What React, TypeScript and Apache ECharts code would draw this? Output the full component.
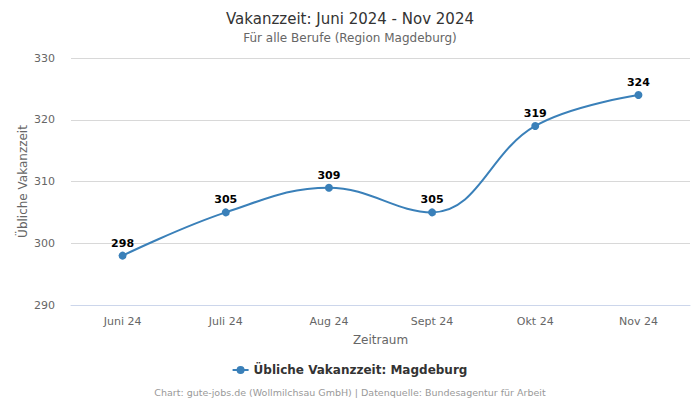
import React, { useEffect, useRef } from "react";
import * as echarts from "echarts";

const categories = ["Juni 24", "Juli 24", "Aug 24", "Sept 24", "Okt 24", "Nov 24"];
const values = [298, 305, 309, 305, 319, 324];
const seriesName = "Übliche Vakanzzeit: Magdeburg";
const yMin = 290;
const yMax = 330;
const yInterval = 10;

const FONT = "DejaVu Sans, sans-serif";
const LEGEND_ICON = "path://M0,3 H16 V5 H0 Z M12,4 A4,4 0 1 1 4,4 A4,4 0 1 1 12,4 Z";

export default function App() {
  const ref = useRef<HTMLDivElement>(null);
  useEffect(() => {
    if (!ref.current) return;
    const chart = echarts.init(ref.current, undefined, { renderer: "svg" });
    chart.setOption({
      animation: false,
      textStyle: { fontFamily: FONT },
      title: {
        text: "Vakanzzeit: Juni 2024 - Nov 2024",
        subtext: "Für alle Berufe (Region Magdeburg)",
        left: "center",
        top: 6,
        itemGap: 6,
        textStyle: { fontFamily: FONT, fontSize: 15, fontWeight: "normal", color: "#333333" },
        subtextStyle: { fontFamily: FONT, fontSize: 12, color: "#666666" },
      },
      legend: {
        bottom: 19,
        left: "center",
        itemWidth: 16,
        itemHeight: 8,
        itemGap: 5,
        textStyle: { fontFamily: FONT, fontSize: 12, fontWeight: "bold", color: "#333333" },
        data: [{ name: seriesName, icon: LEGEND_ICON }],
      },
      graphic: [
        {
          type: "text",
          left: "center",
          top: 387,
          style: {
            text: "Chart: gute-jobs.de (Wollmilchsau GmbH) | Datenquelle: Bundesagentur für Arbeit",
            fontFamily: FONT,
            fontSize: 9.5,
            fill: "#999999",
          },
        },
      ],
      grid: { left: 71, right: 10, top: 58, bottom: 95 },
      xAxis: {
        type: "category",
        data: categories,
        boundaryGap: true,
        name: "Zeitraum",
        nameLocation: "middle",
        nameGap: 29,
        nameTextStyle: { fontFamily: FONT, fontSize: 12, color: "#666666" },
        axisLine: { lineStyle: { color: "#ccd6eb" } },
        axisTick: { show: false },
        axisLabel: { fontFamily: FONT, fontSize: 11, color: "#666666", margin: 11 },
      },
      yAxis: {
        type: "value",
        min: yMin,
        max: yMax,
        interval: yInterval,
        name: "Übliche Vakanzzeit",
        nameLocation: "middle",
        nameGap: 42,
        nameMoveOverlap: false,
        nameTextStyle: { fontFamily: FONT, fontSize: 12, color: "#666666" },
        axisLine: { show: false },
        axisTick: { show: false },
        axisLabel: { fontFamily: FONT, fontSize: 11, color: "#666666", margin: 16 },
        splitLine: { lineStyle: { color: "#d8d8d8" } },
      },
      series: [
        {
          name: seriesName,
          type: "line",
          data: values,
          smooth: 0.4,
          symbol: "circle",
          symbolSize: 8,
          lineStyle: { color: "#3a80b9", width: 2 },
          itemStyle: { color: "#3a80b9" },
          label: {
            show: true,
            position: "top",
            distance: 3,
            fontFamily: FONT,
            fontSize: 11,
            fontWeight: "bold",
            color: "#000000",
          },
        },
      ],
    });
    return () => chart.dispose();
  }, []);
  return <div ref={ref} style={{ width: 700, height: 400, position: "absolute", left: 0, top: 0 }} />;
}
